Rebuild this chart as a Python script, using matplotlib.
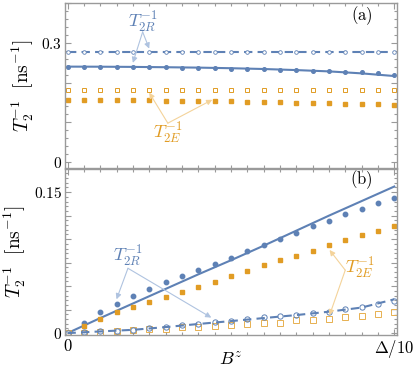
import numpy as np
import matplotlib
matplotlib.use("Agg")
import matplotlib.pyplot as plt
from matplotlib.ticker import MultipleLocator, FixedLocator, FuncFormatter

plt.rcParams["mathtext.fontset"] = "cm"
plt.rcParams["font.family"] = "DejaVu Serif"

##### data (x in units of Delta/10)
x_pts = np.linspace(0, 1, 21)
x_line = np.linspace(0, 1, 11)

# panel (a)
a_R_open = [0.2765] * 21
a_R_dash = [0.2765] * 11
a_R_fill = [0.2405, 0.2405, 0.2404, 0.2402, 0.2400, 0.2395, 0.2390, 0.2383, 0.2375, 0.2365, 0.2355,
            0.2345, 0.2335, 0.2325, 0.2315, 0.2303, 0.2290, 0.2278, 0.2265, 0.2238, 0.2195]
a_R_line = [0.2405, 0.2403, 0.2398, 0.2390, 0.2380, 0.2365, 0.2345, 0.2318, 0.2285, 0.2235, 0.2168]
a_E_open = [0.1815] * 21
a_E_fill = [0.1565, 0.1565, 0.1563, 0.1560, 0.1558, 0.1555, 0.1550, 0.1545, 0.1540, 0.1535, 0.1530,
            0.1523, 0.1515, 0.1508, 0.1500, 0.1492, 0.1483, 0.1473, 0.1463, 0.1452, 0.1440]

# panel (b)
b_R_fill = [0.0, 0.0113, 0.0230, 0.0312, 0.0390, 0.0468, 0.0539, 0.0603, 0.0674, 0.0734, 0.0798,
            0.0869, 0.0936, 0.1004, 0.1064, 0.1135, 0.1195, 0.1266, 0.1323, 0.1383, 0.1436]
b_R_line = [0.0, 0.0160, 0.0315, 0.0470, 0.0625, 0.0775, 0.0930, 0.1090, 0.1250, 0.1405, 0.1560]
b_E_fill = [0.0, 0.0078, 0.0149, 0.0223, 0.0273, 0.0333, 0.0387, 0.0433, 0.0489, 0.0543, 0.0603,
            0.0656, 0.0720, 0.0773, 0.0826, 0.0879, 0.0933, 0.0989, 0.1039, 0.1092, 0.1142]
b_R_open = [0.0, 0.0007, 0.0018, 0.0025, 0.0035, 0.0053, 0.0067, 0.0089, 0.0099, 0.0117, 0.0131,
            0.0149, 0.0167, 0.0177, 0.0191, 0.0213, 0.0230, 0.0255, 0.0277, 0.0309, 0.0344]
b_R_dash = [0.0, 0.0018, 0.0035, 0.0064, 0.0097, 0.0128, 0.0160, 0.0192, 0.0228, 0.0272, 0.0360]
b_E_open = [0.0, 0.0005, 0.0010, 0.0018, 0.0028, 0.0040, 0.0046, 0.0060, 0.0064, 0.0080, 0.0089,
            0.0099, 0.0103, 0.0113, 0.0135, 0.0138, 0.0152, 0.0167, 0.0184, 0.0202, 0.0223]

blue = "#5E81B5"
orange = "#E19C24"
blue_light = "#AFC3E0"
orange_light = "#F4D39A"
frame = "#9A9A9A"

fig = plt.figure(figsize=(4.16, 3.70), dpi=100)
ax1 = fig.add_axes([0.156, 0.546, 0.798, 0.446])
ax2 = fig.add_axes([0.156, 0.0946, 0.798, 0.449])


def style_axes(ax, ymajor, yminor, ylabels):
    ax.set_xlim(-0.008, 1.008)
    ax.xaxis.set_major_locator(FixedLocator([0, 1]))
    ax.xaxis.set_minor_locator(MultipleLocator(0.05))
    ax.yaxis.set_major_locator(MultipleLocator(ymajor))
    ax.yaxis.set_minor_locator(MultipleLocator(yminor))
    ax.yaxis.set_major_formatter(FuncFormatter(
        lambda v, p: ylabels.get(round(v, 4), "")))
    ax.tick_params(which="both", direction="in", top=True, right=True,
                   color=frame, width=0.8, labelsize=11, pad=2)
    ax.tick_params(which="major", length=4)
    ax.tick_params(which="minor", length=2)
    for sp in ax.spines.values():
        sp.set_color(frame)
        sp.set_linewidth(1.0)
    ax.set_ylabel(r"$T_2^{-1}\ \ [\mathrm{ns}^{-1}]$", fontsize=14, labelpad=4)


def arrow(ax, start, end, color):
    ax.annotate("", xy=end, xytext=start,
                arrowprops=dict(arrowstyle="-|>", color=color, lw=0.8,
                                mutation_scale=8, shrinkA=0, shrinkB=0))


#### panel (a)
ax1.plot(x_line, a_R_dash, color=blue, lw=1.5, ls=(0, (4, 2.5)))
ax1.plot(x_pts, a_R_open, "o", ms=2.6, mfc="white", mec=blue, mew=0.6)
ax1.plot(x_line, a_R_line, color=blue, lw=1.5)
ax1.plot(x_pts, a_R_fill, "o", ms=2.6, color=blue)
ax1.plot(x_pts, a_E_open, "s", ms=2.9, mfc="white", mec=orange, mew=0.7)
ax1.plot(x_pts, a_E_fill, "s", ms=3.0, color=orange)
ax1.set_ylim(-0.015, 0.401)
style_axes(ax1, 0.1, 0.02, {0.0: r"$0$", 0.3: r"$0.3$"})
ax1.tick_params(axis="x", labelbottom=False)
ax1.text(0.90, 0.37, r"$\mathrm{(a)}$", fontsize=12, ha="center", va="center")

ax1.text(0.23, 0.353, r"$T_{2R}^{-1}$", color=blue, fontsize=13, ha="center", va="center")
arrow(ax1, (0.23, 0.328), (0.20, 0.250), blue_light)
arrow(ax1, (0.23, 0.328), (0.25, 0.286), blue_light)
ax1.text(0.307, 0.073, r"$T_{2E}^{-1}$", color=orange, fontsize=13, ha="center", va="center")
arrow(ax1, (0.307, 0.098), (0.25, 0.175), orange_light)
arrow(ax1, (0.307, 0.098), (0.443, 0.157), orange_light)

#### panel (b)
ax2.plot(x_line, b_R_line, color=blue, lw=1.5)
ax2.plot(x_pts, b_R_fill, "o", ms=3.2, color=blue)
ax2.plot(x_pts, b_E_fill, "s", ms=3.5, color=orange)
ax2.plot(x_pts, b_E_open, "s", ms=4.2, mfc="white", mec=orange, mew=0.7, alpha=0.8)
ax2.plot(x_line, b_R_dash, color=blue, lw=1.5, ls=(0, (4, 2.5)))
ax2.plot(x_pts, b_R_open, "o", ms=3.8, mfc="none", mec=blue, mew=0.7)
ax2.set_ylim(-0.002, 0.1748)
style_axes(ax2, 0.025, 0.005, {0.0: r"$0$", 0.15: r"$0.15$"})
ax2.set_xticklabels([r"$0$", r"$\Delta/10$"])
ax2.tick_params(axis="x", labelsize=12)
ax2.set_xlabel(r"$B^z$", fontsize=13)
ax2.xaxis.set_label_coords(0.5, -0.098)
ax2.text(0.90, 0.163, r"$\mathrm{(b)}$", fontsize=12, ha="center", va="center")

ax2.text(0.185, 0.0814, r"$T_{2R}^{-1}$", color=blue, fontsize=13, ha="center", va="center")
arrow(ax2, (0.185, 0.069), (0.15, 0.036), blue_light)
arrow(ax2, (0.185, 0.069), (0.44, 0.0165), blue_light)
ax2.text(0.895, 0.069, r"$T_{2E}^{-1}$", color=orange, fontsize=13, ha="center", va="center")
arrow(ax2, (0.85, 0.067), (0.802, 0.0885), orange_light)
arrow(ax2, (0.85, 0.067), (0.802, 0.019), orange_light)

fig.savefig("out.png", dpi=100)
